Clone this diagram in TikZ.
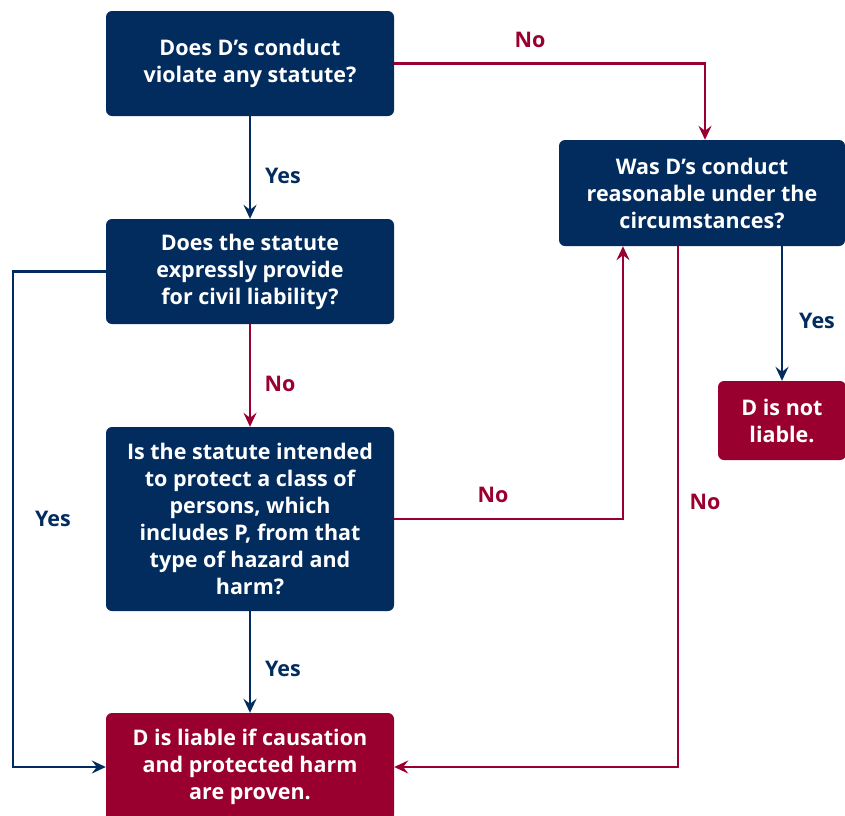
\documentclass[tikz,border=0pt]{standalone}
\usepackage{fontspec}
\setmainfont{Open Sans}
\usetikzlibrary{arrows.meta,positioning}
\definecolor{navy}{RGB}{2,44,94}
\definecolor{wine}{RGB}{153,0,48}
\begin{document}
\begin{tikzpicture}[x=1pt,y=-1pt,
  box/.style={rounded corners=6pt, inner sep=0pt, align=center, text=white,
    font=\fontsize{21.5}{27}\selectfont\bfseries},
  qbox/.style={box, fill=navy},
  abox/.style={box, fill=wine},
  conn/.style={line width=2.2pt, -{Stealth[length=14pt,width=13pt,inset=5pt]}},
  nav/.style={conn, draw=navy},
  red/.style={conn, draw=wine},
  lab/.style={font=\fontsize{21.5}{26}\selectfont\bfseries},
  ylab/.style={lab, text=navy},
  nlab/.style={lab, text=wine}]
\useasboundingbox (0,0) rectangle (845,815);
\node[qbox, minimum width=288pt, minimum height=105pt] (A) at (250,63.5)
  {Does D’s conduct\\violate any statute?};
\node[qbox, minimum width=288pt, minimum height=105pt] (B) at (250,271.5)
  {Does the statute\\expressly provide\\for civil liability?};
\node[qbox, minimum width=288pt, minimum height=184pt] (C) at (250,519)
  {Is the statute intended\\to protect a class of\\persons, which\\includes P, from that\\type of hazard and\\harm?};
\node[abox, minimum width=288pt, minimum height=108pt] (D) at (250,767)
  {D is liable if causation\\and protected harm\\are proven.};
\node[qbox, minimum width=286pt, minimum height=106pt] (E) at (702,193)
  {Was D’s conduct\\reasonable under the\\circumstances?};
\node[abox, minimum width=128pt, minimum height=79pt] (F) at (782,420.5)
  {D is not\\liable.};

\draw[nav] (A) -- (B);
\draw[red] (B) -- (C);
\draw[nav] (C) -- (D);
\draw[red] (A.east) -| ([xshift=3pt]E.north);
\draw[nav] (B.west) -- ++(-93,0) |- (D.west);
\draw[red] (C.east) -| ([xshift=-79pt]E.south);
\draw[red] ([xshift=-24pt]E.south) |- (D.east);
\draw[nav] (E.south -| F.north) -- (F.north);

\node[ylab] (y1) at (283,176) {Yes};
\node[nlab] (n1) at (530,40) {No};
\node[nlab] (n2) at (280,384) {No};
\node[ylab] (y2) at (53,519) {Yes};
\node[nlab] (n3) at (493,495) {No};
\node[nlab] (n4) at (705,502) {No};
\node[ylab] (y3) at (817,321) {Yes};
\node[ylab] (y4) at (283,669) {Yes};
\end{tikzpicture}
\end{document}
